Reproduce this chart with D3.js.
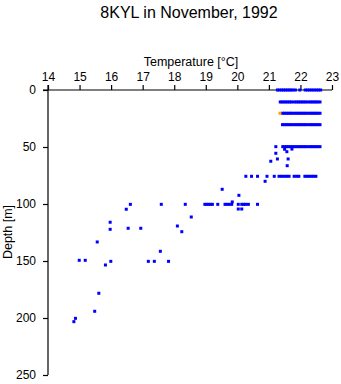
<!DOCTYPE html>
<html><head><meta charset="utf-8">
<script src="https://cdn.jsdelivr.net/npm/d3@7"></script>
<style>body{margin:0;background:#fff}svg{display:block}text{font-family:"Liberation Sans",Arial,sans-serif;fill:#000}</style>
</head><body>
<script>
const title = "8KYL in November, 1992";
const xLabel = "Temperature [°C]";
const yLabel = "Depth [m]";
const xTicks = [14,15,16,17,18,19,20,21,22,23];
const yTicks = [0,50,100,150,200,250];

const depth0 = [21.27,21.33,21.40,21.46,21.52,21.58,21.64,21.70,21.76,21.84,21.98,22.15,22.22,22.29,22.36,22.43,22.50,22.57,22.64];
const depth10 = [21.36,21.42,21.48,21.54,21.60,21.66,21.72,21.80,21.87,21.93,21.99,22.05,22.11,22.17,22.24,22.31,22.37,22.43,22.49,22.55,22.62];
const depth20 = [21.43,21.49,21.55,21.61,21.67,21.73,21.80,21.87,21.93,21.99,22.05,22.11,22.17,22.24,22.31,22.37,22.43,22.49,22.55,22.62];
const depth30 = [21.43,21.49,21.55,21.61,21.67,21.73,21.80,21.87,21.93,21.99,22.05,22.11,22.17,22.24,22.31,22.37,22.43,22.49,22.55,22.62];
const depth50 = [21.22,21.44,21.50,21.56,21.62,21.68,21.74,21.80,21.87,21.93,21.99,22.05,22.11,22.17,22.24,22.31,22.37,22.43,22.49,22.55,22.62];
const depth75 = [20.27,20.45,20.64,20.94,21.17,21.32,21.40,21.48,21.56,21.64,21.80,21.88,21.95,22.14,22.21,22.28,22.35,22.42,22.49];
const depth100 = [16.61,17.59,18.35,18.97,19.03,19.09,19.15,19.21,19.38,19.61,19.67,19.74,19.82,20.03,20.14,20.20,20.26,20.35,20.64];
const otherTemp  = [21.50,21.57,21.73,21.22,21.27,21.61,21.06,21.58,20.88,19.52,20.05,19.84,20.03,20.14,16.48,18.54,15.97,15.97,16.54,16.94,18.10,18.24,15.56,17.56,14.99,15.18,15.82,15.99,17.18,17.37,17.82,15.61,15.48,14.87,14.82];
const otherDepth = [52.0, 54.1, 51.8, 55.5, 60.5, 60.5, 62.5, 66.4, 80.1, 87.1, 92.4, 98.2, 104.4,104.4,104.6,111.4,116.0,122.2,121.3,121.3,119.3,124.3,133.3,141.5,149.4,149.4,153.5,150.3,150.3,150.3,150.3,178.3,194.1,200.3,203.2];
const orangeTemp = [21.35];
const orangeDepth = [20.4];

const W = 341, H = 384;
const svg = d3.select("body").append("svg").attr("width", W).attr("height", H);

const x = d3.scaleLinear().domain([14, 23]).range([48, 332]);
const y = d3.scaleLinear().domain([0, 250]).range([90, 375]);

svg.append("text").attr("x", 189).attr("y", 18).attr("text-anchor", "middle")
  .style("font-size", "16px").text(title);

const xa = svg.append("g").attr("transform", "translate(0,90)")
  .call(d3.axisTop(x).tickValues(xTicks).tickFormat(d3.format("d")).tickSize(5).tickSizeOuter(0));
xa.select(".domain").attr("d", "M43,0H332");
xa.selectAll("text").style("font-size", "12px").attr("dy", "-0.05em");
xa.selectAll("path,line").attr("stroke", "#000").attr("stroke-width", 1.2);

const ya = svg.append("g").attr("transform", "translate(48,0)")
  .call(d3.axisLeft(y).tickValues(yTicks).tickFormat(d3.format("d")).tickSize(5).tickSizeOuter(0));
ya.select(".domain").attr("d", "M0,85V375");
ya.selectAll("text").style("font-size", "12px").attr("x", -12);
ya.selectAll("path,line").attr("stroke", "#000").attr("stroke-width", 1.2);

svg.append("text").attr("x", 191).attr("y", 66).attr("text-anchor", "middle")
  .style("font-size", "12.5px").text(xLabel);
svg.append("text").attr("transform", "translate(12,232) rotate(-90)").attr("text-anchor", "middle")
  .style("font-size", "12.5px").text(yLabel);

const pts = [];
[[0,depth0],[10.5,depth10],[20.4,depth20],[30.4,depth30],[49.7,depth50],[75.7,depth75],[100.3,depth100]]
  .forEach(([d, arr]) => arr.forEach(t => pts.push({t, d})));
otherTemp.forEach((t, i) => pts.push({t, d: otherDepth[i]}));

svg.append("g").selectAll("rect").data(pts).join("rect")
  .attr("x", p => x(p.t) - 1.5).attr("y", p => y(p.d) - 1.5)
  .attr("width", 3).attr("height", 3).attr("fill", "#0000ff");

svg.append("g").selectAll("rect").data(orangeTemp.map((t, i) => ({t, d: orangeDepth[i]}))).join("rect")
  .attr("x", p => x(p.t) - 1.5).attr("y", p => y(p.d) - 1.5)
  .attr("width", 3).attr("height", 3).attr("fill", "#ffa500");
</script>
</body></html>
